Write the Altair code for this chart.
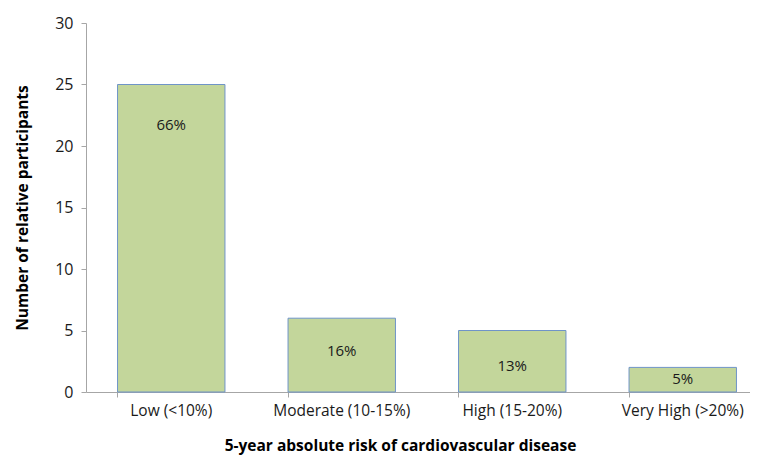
import altair as alt
import pandas as pd

categories = ["Low (<10%)", "Moderate (10-15%)", "High (15-20%)", "Very High (>20%)"]
counts = [25, 6, 5, 2]
pct_labels = ["66%", "16%", "13%", "5%"]
label_pos = [21.7, 3.3, 2.1, 1.05]

df = pd.DataFrame({"cat": categories, "n": counts, "lab": pct_labels, "ly": label_pos})

FONT = "Open Sans"

xscale = alt.Scale(paddingInner=0.37, paddingOuter=0.185, range=[0, 682])

x = alt.X("cat:N", sort=categories, scale=xscale,
          axis=alt.Axis(title="5-year absolute risk of cardiovascular disease",
                        labelAngle=0, bandPosition=0, ticks=True, tickSize=5,
                        labelPadding=6, titlePadding=20, titleX=314,
                        labelFont=FONT, labelFontSize=15.5, labelColor="#1a1a1a",
                        titleFont=FONT, titleFontSize=15.5, titleFontWeight="bold",
                        titleColor="#000000",
                        domainColor="#a6a6a6", tickColor="#a6a6a6"))

bars = alt.Chart(df).mark_bar(color="#c3d69b", stroke="#6f94c8", strokeWidth=1).encode(
    x=x,
    y=alt.Y("n:Q", scale=alt.Scale(domain=[0, 30]),
            axis=alt.Axis(title="Number of relative participants", values=[0, 5, 10, 15, 20, 25, 30],
                          grid=False, tickSize=5, labelPadding=8, titlePadding=24,
                          labelFont=FONT, labelFontSize=16, labelColor="#1a1a1a",
                          titleFont=FONT, titleFontSize=15.5, titleFontWeight="bold",
                          titleColor="#000000",
                          domainColor="#a6a6a6", tickColor="#a6a6a6")),
)

text = alt.Chart(df).mark_text(font=FONT, fontSize=15, color="#1a1a1a", baseline="middle").encode(
    x=alt.X("cat:N", sort=categories, scale=xscale),
    y=alt.Y("ly:Q"),
    text="lab:N",
)

chart = alt.layer(bars, text).properties(
    width=664, height=369,
    background="white",
    autosize=alt.AutoSizeParams(type="none"),
    padding={"left": 78, "top": 15, "right": 0, "bottom": 63},
).configure_view(stroke=None)

chart.save("out.html", embed_options={"renderer": "svg", "actions": False})
